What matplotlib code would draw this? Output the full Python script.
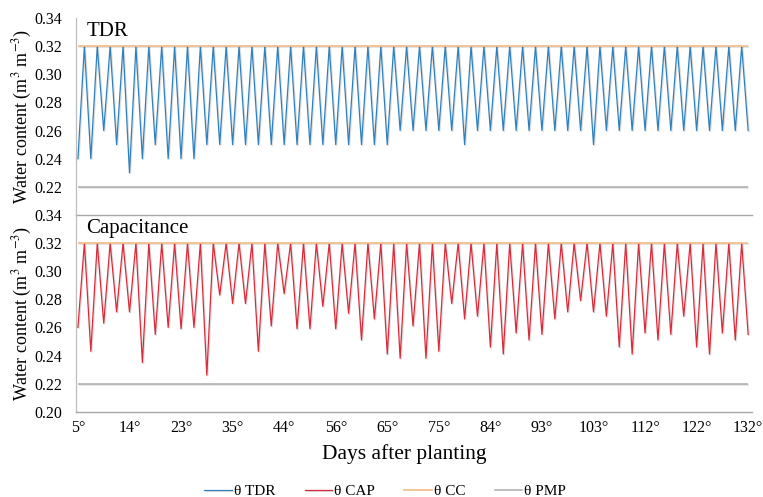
import matplotlib
matplotlib.use("Agg")
import matplotlib.pyplot as plt
import matplotlib.patheffects as pe

# every 8th sampling date carries a label on the category axis
day_labels = ['5°', '14°', '23°', '35°', '44°', '56°', '65°', '75°',
              '84°', '93°', '103°', '112°', '122°', '132°']

# soil water content (m3 m-3)
theta_tdr = [0.24, 0.32, 0.24, 0.32, 0.26, 0.32, 0.25, 0.32, 0.23, 0.32,
             0.24, 0.32, 0.25, 0.32, 0.24, 0.32, 0.24, 0.32, 0.24, 0.32,
             0.25, 0.32, 0.25, 0.32, 0.25, 0.32, 0.25, 0.32, 0.25, 0.32,
             0.25, 0.32, 0.25, 0.32, 0.25, 0.32, 0.25, 0.32, 0.25, 0.32,
             0.25, 0.32, 0.25, 0.32, 0.25, 0.32, 0.25, 0.32, 0.25, 0.32,
             0.26, 0.32, 0.26, 0.32, 0.26, 0.32, 0.26, 0.32, 0.26, 0.32,
             0.25, 0.32, 0.26, 0.32, 0.26, 0.32, 0.26, 0.32, 0.26, 0.32,
             0.26, 0.32, 0.26, 0.32, 0.26, 0.32, 0.26, 0.32, 0.26, 0.32,
             0.25, 0.32, 0.26, 0.32, 0.26, 0.32, 0.26, 0.32, 0.26, 0.32,
             0.26, 0.32, 0.26, 0.32, 0.26, 0.32, 0.26, 0.32, 0.26, 0.32,
             0.26, 0.32, 0.26, 0.32, 0.26]

theta_cap = [0.260, 0.32, 0.243, 0.32, 0.263, 0.32, 0.271, 0.32, 0.271, 0.32,
             0.235, 0.32, 0.255, 0.32, 0.260, 0.32, 0.259, 0.32, 0.260, 0.32,
             0.226, 0.32, 0.283, 0.32, 0.277, 0.32, 0.277, 0.32, 0.243, 0.32,
             0.261, 0.32, 0.284, 0.32, 0.259, 0.32, 0.259, 0.32, 0.275, 0.32,
             0.259, 0.32, 0.270, 0.32, 0.251, 0.32, 0.266, 0.32, 0.241, 0.32,
             0.238, 0.32, 0.261, 0.32, 0.238, 0.32, 0.243, 0.32, 0.277, 0.32,
             0.266, 0.32, 0.268, 0.32, 0.246, 0.32, 0.241, 0.32, 0.256, 0.32,
             0.251, 0.32, 0.255, 0.32, 0.266, 0.32, 0.271, 0.32, 0.279, 0.32,
             0.271, 0.32, 0.268, 0.32, 0.246, 0.32, 0.241, 0.32, 0.256, 0.32,
             0.251, 0.32, 0.255, 0.32, 0.268, 0.32, 0.246, 0.32, 0.241, 0.32,
             0.256, 0.32, 0.251, 0.32, 0.255]

theta_cc = 0.32   # field capacity
theta_pmp = 0.22  # permanent wilting point

plt.rcParams['font.family'] = ['Liberation Serif', 'DejaVu Serif']
plt.rcParams['mathtext.fontset'] = 'stix'

c_tdr = '#3080BC'
c_cap = '#D92B3A'
c_cc = '#F3C08C'
c_pmp = '#ABABAB'
axis_grey = '#BDBDBD'

shadow = [pe.SimpleLineShadow(offset=(0.8, -0.8), alpha=0.12), pe.Normal()]

fig = plt.figure(figsize=(7.63, 4.97), dpi=100)
ax1 = fig.add_axes([0.0996, 0.5674, 0.886, 0.3964])
ax2 = fig.add_axes([0.0996, 0.1716, 0.886, 0.3958])

n = len(theta_tdr)
x = list(range(n))

panels = [(ax1, theta_tdr, c_tdr, 'θ TDR', 'TDR'),
          (ax2, theta_cap, c_cap, 'θ CAP', 'Capacitance')]

handles = {}
for ax, series, color, label, title in panels:
    ax.set_facecolor('none')
    line, = ax.plot(x, series, color=color, lw=0.9, label=label,
                    path_effects=shadow, zorder=3)
    handles[label] = line
    ax.hlines(theta_cc, 0, n - 1, color=c_cc, lw=1.3, zorder=4,
              path_effects=shadow)
    ax.hlines(theta_pmp, 0, n - 1, color=c_pmp, lw=1.1, zorder=4,
              path_effects=shadow)

    ax.set_xlim(-0.3, n - 1 + 0.6)
    ax.set_ylim(0.20, 0.34)
    for s in ['top', 'right']:
        ax.spines[s].set_visible(False)
    ax.spines['left'].set_color(axis_grey)
    ax.spines['bottom'].set_color('#A6A6A6')
    ax.spines['left'].set_linewidth(0.9)
    ax.spines['bottom'].set_linewidth(1.0)
    ax.tick_params(axis='both', length=0, labelsize=11.5)
    ax.tick_params(axis='y', pad=10)
    ax.yaxis.set_major_formatter(plt.FormatStrFormatter('%.2f'))
    ax.set_ylabel('Water content (m$^3$ m$^{-3}$)', fontsize=13)
    ax.yaxis.set_label_coords(-0.062, 0.5)
    ax.text(0.015, 0.91, title, transform=ax.transAxes, fontsize=15,
            va='baseline', ha='left')

ax1.set_yticks([0.22, 0.24, 0.26, 0.28, 0.30, 0.32, 0.34])
ax2.set_yticks([0.20, 0.22, 0.24, 0.26, 0.28, 0.30, 0.32, 0.34])

ax1.set_xticks([])
ax2.set_xticks(list(range(0, n, 8)))
ax2.set_xticklabels(day_labels)
ax2.tick_params(axis='x', pad=6)
ax2.set_xlabel('Days after planting', fontsize=15.5)
ax2.xaxis.set_label_coords((404 - 76) / 676, -0.165)

legend_lines = [handles['θ TDR'], handles['θ CAP'],
                plt.Line2D([], [], color=c_cc, lw=1.3),
                plt.Line2D([], [], color=c_pmp, lw=1.1)]
fig.legend(legend_lines, ['θ TDR', 'θ CAP', 'θ CC', 'θ PMP'],
           loc='lower center', bbox_to_anchor=(0.505, -0.03), ncol=4,
           frameon=False, fontsize=11, handlelength=1.8, handletextpad=0.15,
           columnspacing=1.9)

fig.savefig('out.png', dpi=100)
